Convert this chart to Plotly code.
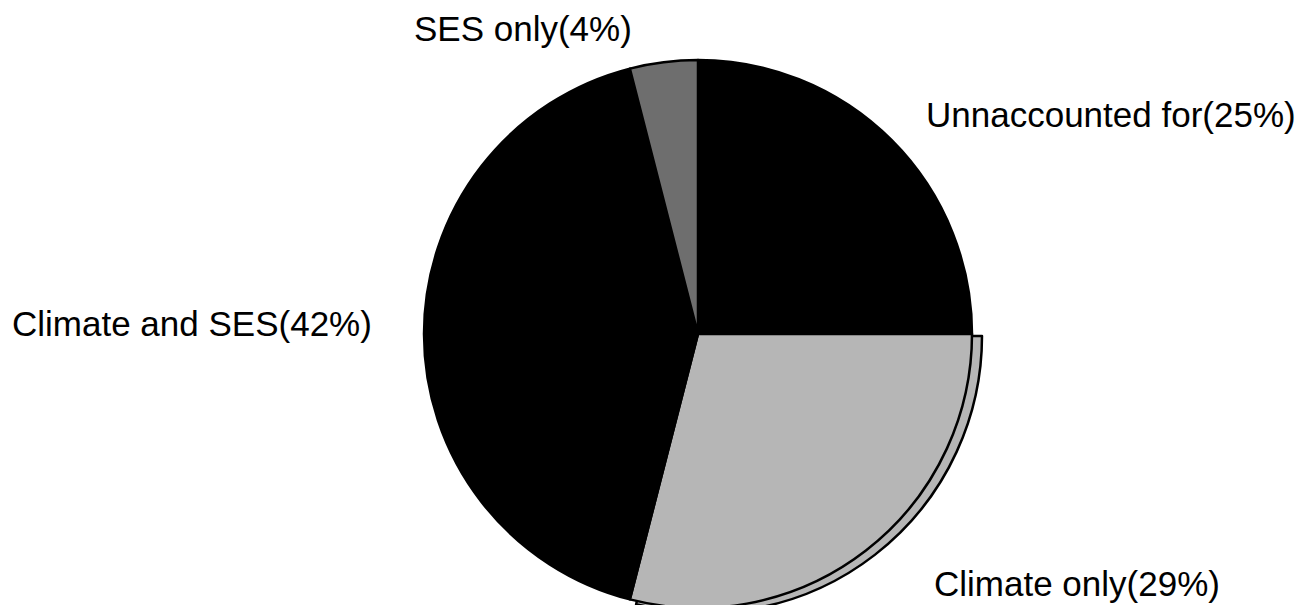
import plotly.graph_objects as go

# Data
labels = ["Unnaccounted for", "Climate only", "Climate and SES", "SES only"]
values = [25, 29, 42, 4]
colors = ["#000000", "#b6b6b6", "#000000", "#6e6e6e"]

W, H = 1315, 605

def px_dom_x(cx, r):
    return [(cx - r) / W, (cx + r) / W]

def px_dom_y(cy, r):
    return [max(0.0, (H - (cy + r)) / H), min(1.0, (H - (cy - r)) / H)]

fig = go.Figure()

# Offset rim (shadow) of the "Climate only" slice
shadow_colors = ["rgba(0,0,0,0)", "#b6b6b6", "rgba(0,0,0,0)", "rgba(0,0,0,0)"]
fig.add_trace(go.Pie(
    labels=labels, values=values, sort=False, direction="clockwise", rotation=0,
    marker=dict(colors=shadow_colors,
                line=dict(color="#000000", width=[0, 2.5, 0, 0])),
    textinfo="none", hoverinfo="skip", showlegend=False,
    domain=dict(x=px_dom_x(697, 277), y=px_dom_y(328, 277)),
))

# Main pie
fig.add_trace(go.Pie(
    labels=labels, values=values, sort=False, direction="clockwise", rotation=0,
    marker=dict(colors=colors, line=dict(color="#000000", width=2.5)),
    textinfo="none", hoverinfo="skip", showlegend=False,
    domain=dict(x=px_dom_x(690, 274), y=px_dom_y(326, 274)),
))

# Outside labels
label_pos = {
    "SES only": (404, 21),
    "Unnaccounted for": (916, 106),
    "Climate and SES": (2, 315),
    "Climate only": (924, 575),
}
for lab, val in zip(labels, values):
    x, y = label_pos[lab]
    fig.add_annotation(
        x=x / W, y=1 - y / H, xref="paper", yref="paper",
        xanchor="left", yanchor="middle", showarrow=False,
        text=f"{lab}({val}%)",
        font=dict(family="Liberation Sans, Arial, sans-serif", size=35, color="#000000"),
    )

fig.update_layout(
    width=W, height=H,
    margin=dict(l=0, r=0, t=0, b=0),
    paper_bgcolor="white", plot_bgcolor="white",
    showlegend=False,
)

fig.write_html("out.html")
